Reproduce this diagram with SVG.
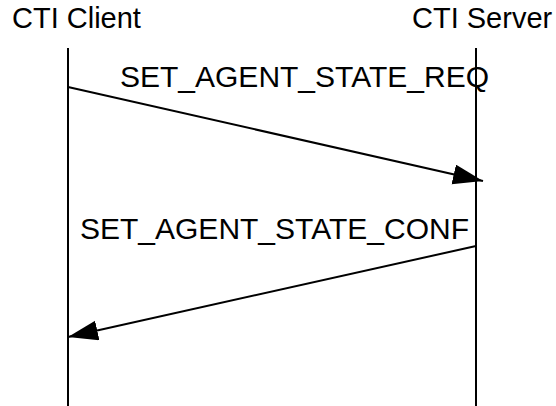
<svg xmlns="http://www.w3.org/2000/svg" width="556" height="406" viewBox="0 0 556 406">
<style>
text{font-family:"Liberation Sans",Arial,sans-serif;font-size:29px;fill:#000}
.lbl{font-size:30px}
.life{stroke:#000;stroke-width:2;fill:none}
.msg{stroke:#000;stroke-width:2;fill:none;marker-end:url(#ah)}
</style>
<defs>
<marker id="ah" markerUnits="userSpaceOnUse" markerWidth="32" markerHeight="22" refX="30" refY="10" orient="auto" viewBox="0 0 32 22">
<path d="M0,0 L30,10 L0,20 z" fill="#000"/>
</marker>
</defs>
<g id="client">
<text x="12" y="28">CTI Client</text>
<line class="life" x1="68" y1="48" x2="68" y2="406"/>
</g>
<g id="server">
<text x="412" y="28">CTI Server</text>
<line class="life" x1="476" y1="48" x2="476" y2="406"/>
</g>
<g id="connectors">
<line class="msg" x1="68" y1="87" x2="483" y2="181"/>
<text class="lbl" x="120" y="87">SET_AGENT_STATE_REQ</text>
<line class="msg" x1="476" y1="246" x2="68" y2="337"/>
<text class="lbl" x="80" y="239">SET_AGENT_STATE_CONF</text>
</g>
</svg>
